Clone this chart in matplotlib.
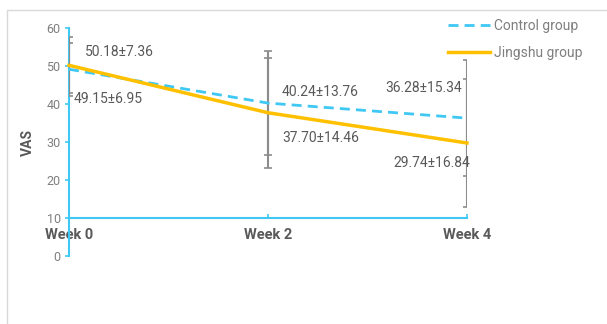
import matplotlib.pyplot as plt
from matplotlib.patches import Rectangle

weeks = ['Week 0', 'Week 2', 'Week 4']
control_mean = [49.15, 40.24, 36.28]
control_sd = [6.95, 13.76, 15.34]
jingshu_mean = [50.18, 37.70, 29.74]
jingshu_sd = [7.36, 14.46, 16.84]
yticks = [0, 10, 20, 30, 40, 50, 60]

blue = '#3fc8f4'
gold = '#ffc000'
grey = '#8c8c8c'

plt.rcParams['font.family'] = ['Roboto', 'DejaVu Sans']

fig = plt.figure(figsize=(6.07, 3.24), dpi=100)
ax = fig.add_axes([69 / 607, 68 / 324, 398 / 607, 228 / 324])
x = list(range(len(weeks)))

# error bars, caps drawn as short clipped segments so they get cut at the plot edges
cap = 0.018
for means, sds in [(control_mean, control_sd), (jingshu_mean, jingshu_sd)]:
    lo = [m - s for m, s in zip(means, sds)]
    hi = [m + s for m, s in zip(means, sds)]
    ax.vlines(x, lo, hi, color=grey, lw=1.5, zorder=4)
    ax.hlines(lo + hi, [i - cap for i in x] * 2, [i + cap for i in x] * 2,
              color=grey, lw=1.2, zorder=4)

ax.plot(x, control_mean, color=blue, lw=2, dashes=(3.6, 2.2),
        label='Control group', zorder=5, clip_on=False)
ax.plot(x, jingshu_mean, color=gold, lw=2.5,
        label='Jingshu group', zorder=6, clip_on=False)

# mean±sd labels, offsets per point
ctrl_pos = [(0.025, 41.3, 'left'), (1.07, 43.2, 'left'), (1.975, 44.2, 'right')]
jing_pos = [(0.08, 53.7, 'left'), (1.07, 31.05, 'left'), (2.015, 24.5, 'right')]
for m, s, (tx, ty, ha) in zip(control_mean, control_sd, ctrl_pos):
    ax.text(tx, ty, '%.2f±%.2f' % (m, s), ha=ha, va='center',
            fontsize=10, color='#595959', zorder=7)
for m, s, (tx, ty, ha) in zip(jingshu_mean, jingshu_sd, jing_pos):
    ax.text(tx, ty, '%.2f±%.2f' % (m, s), ha=ha, va='center',
            fontsize=10, color='#595959', zorder=7)

ax.set_xlim(0, 2)
ax.set_ylim(0, 60)
ax.set_yticks(yticks)
ax.set_xticks(x)
ax.set_xticklabels(weeks)

for side in ['top', 'right']:
    ax.spines[side].set_visible(False)
ax.spines['left'].set_color(blue)
ax.spines['left'].set_linewidth(1.5)
ax.spines['bottom'].set_position(('data', 10))
ax.spines['bottom'].set_color(blue)
ax.spines['bottom'].set_linewidth(1.5)
ax.tick_params(axis='y', colors=blue, labelcolor='#7f7f7f', labelsize=9,
               length=3, width=1.2, pad=3)
ax.tick_params(axis='x', direction='in', colors=blue, labelcolor='#595959',
               labelsize=10.5, length=3, width=1.2, pad=7)
for lab in ax.get_xticklabels():
    lab.set_fontweight('bold')

ax.set_ylabel('VAS', fontweight='bold', color='#595959', fontsize=10, labelpad=8)

fig.legend(loc='upper left', bbox_to_anchor=(441 / 607, 1 - 12 / 324),
           frameon=False, borderpad=0, fontsize=10, handlelength=3.0,
           handletextpad=0.3, labelspacing=0.95, labelcolor='#7f7f7f')

# thin chart-area border
fig.patches.append(Rectangle((7 / 607, -0.05), 1.1, 1 - 10 / 324 + 0.05,
                             transform=fig.transFigure, fill=False,
                             edgecolor='#d9d9d9', lw=1))

fig.savefig('out.png', dpi=100)
